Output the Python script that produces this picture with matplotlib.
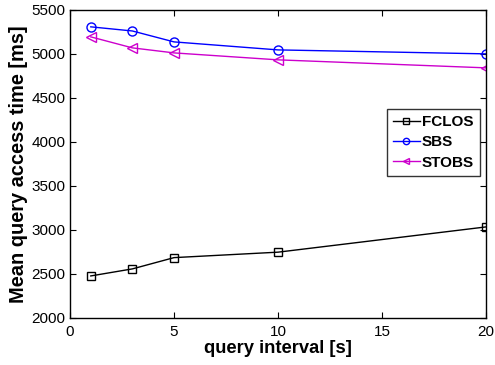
import matplotlib
matplotlib.use("Agg")
import matplotlib.pyplot as plt

x = [1, 3, 5, 10, 20]
fclos = [2477, 2557, 2685, 2747, 3034]
sbs = [5307, 5260, 5136, 5045, 5000]
stobs = [5193, 5068, 5011, 4932, 4841]
xticks = [0, 5, 10, 15, 20]
yticks = [2000, 2500, 3000, 3500, 4000, 4500, 5000, 5500]

plt.rcParams['font.family'] = ['Liberation Sans', 'DejaVu Sans']
fig = plt.figure(figsize=(4.95, 3.65), dpi=100)
ax = fig.add_axes([0.1414, 0.129, 0.8406, 0.844])

ax.plot(x, fclos, color='black', marker='s', markerfacecolor='none', markersize=6, linewidth=1, label='FCLOS')
ax.plot(x, sbs, color='#0000ff', marker='o', markerfacecolor='none', markersize=6.5, linewidth=1, label='SBS')
ax.plot(x, stobs, color='#cc00cc', marker='<', markerfacecolor='none', markersize=7, linewidth=1, label='STOBS')

ax.set_xlim(0, 20)
ax.set_ylim(2000, 5500)
ax.set_xticks(xticks)
ax.set_yticks(yticks)
ax.tick_params(direction='in', top=True, right=True, labelsize=11, length=4)
ax.tick_params(axis='x', pad=5)
for s in ax.spines.values():
    s.set_linewidth(1)
ax.set_xlabel('query interval [s]', fontsize=13.2, fontweight='bold', labelpad=1)
ax.set_ylabel('Mean query access time [ms]', fontsize=14.4, fontweight='bold', labelpad=2)

leg = ax.legend(loc='upper right', bbox_to_anchor=(0.9856, 0.679), bbox_transform=ax.transAxes,
                prop={'weight': 'bold', 'size': 11}, markerscale=0.7,
                frameon=True, fancybox=False, edgecolor='black', handlelength=1.75, borderpad=0.4,
                labelspacing=0.42, handletextpad=0.15, borderaxespad=0.0)
leg.get_frame().set_linewidth(1)

fig.savefig('out.png', dpi=100)
